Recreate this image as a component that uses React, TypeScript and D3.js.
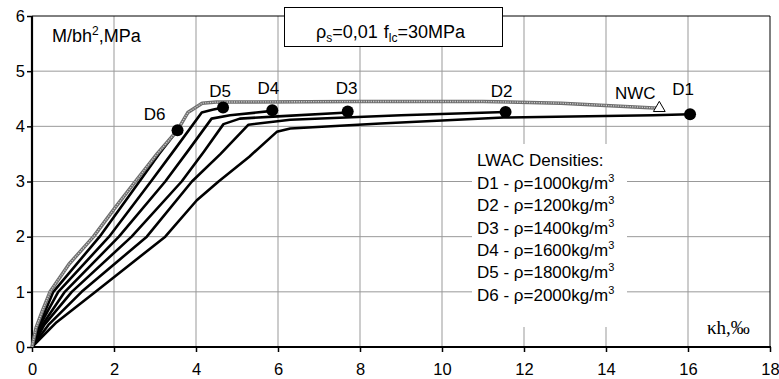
import React, { useRef, useEffect } from "react";
import * as d3 from "d3";

type Pt = [number, number];

// axis ticks
const xTicks = [0, 2, 4, 6, 8, 10, 12, 14, 16, 18];
const yTicks = [0, 1, 2, 3, 4, 5, 6];

// NWC reference curve (grey)
const nwcCurve: Pt[] = [
    [0, 0], [0.1, 0.35], [0.25, 0.65], [0.44, 1.0], [0.9, 1.5], [1.5, 2.0], [2.0, 2.5],
    [2.52, 3.0], [3.05, 3.5], [3.55, 3.93], [3.8, 4.25], [4.15, 4.42], [4.5, 4.44],
    [8, 4.45], [11, 4.45], [12.9, 4.42], [15.3, 4.33],
];

// LWAC curves
const d1Curve: Pt[] = [
    [0, 0], [0.6, 0.45], [1.55, 1.0], [3.25, 2.0], [4.02, 2.66], [4.55, 3.0], [5.3, 3.45],
    [5.97, 3.9], [6.3, 3.96], [8.5, 4.05], [11.5, 4.16], [15.15, 4.2], [16.05, 4.22],
];
const d2Curve: Pt[] = [
    [0, 0], [0.4, 0.4], [1.21, 1.0], [2.8, 2.0], [3.9, 3.0], [4.6, 3.5], [5.28, 4.03],
    [6.3, 4.12], [9, 4.2], [11.55, 4.26],
];
const d3Curve: Pt[] = [
    [0, 0], [0.3, 0.4], [0.97, 1.0], [2.43, 2.0], [3.65, 3.0], [4.2, 3.55], [4.67, 4.04],
    [5.07, 4.14], [6, 4.18], [7.7, 4.25],
];
const d4Curve: Pt[] = [
    [0, 0], [0.25, 0.4], [0.8, 1.0], [2.12, 2.0], [3.25, 3.0], [3.85, 3.6], [4.38, 4.14],
    [4.83, 4.2], [5.86, 4.28],
];
const d5Curve: Pt[] = [
    [0, 0], [0.2, 0.4], [0.64, 1.0], [1.88, 2.0], [2.9, 3.0], [3.5, 3.6], [4.14, 4.25],
    [4.4, 4.3], [4.66, 4.34],
];
const d6Curve: Pt[] = [
    [0, 0], [0.15, 0.35], [0.52, 1.0], [1.65, 2.0], [2.62, 3.0], [3.1, 3.5], [3.55, 3.93],
];

const seriesNames = ["D1", "D2", "D3", "D4", "D5", "D6"];
const seriesCurves = [d1Curve, d2Curve, d3Curve, d4Curve, d5Curve, d6Curve];
const densities = [1000, 1200, 1400, 1600, 1800, 2000];
const markerX = [16.05, 11.55, 7.7, 5.86, 4.66, 3.55];
const markerY = [4.22, 4.26, 4.27, 4.29, 4.34, 3.93];
const nwcMarker: Pt = [15.3, 4.33];

const W = 779;
const H = 379;
const FONT = "'Liberation Sans', Arial, sans-serif";

export default function App() {
    const xAxisRef = useRef<SVGGElement>(null);
    const yAxisRef = useRef<SVGGElement>(null);

    const x = d3.scaleLinear().domain([0, 18]).range([32, 770]);
    const y = d3.scaleLinear().domain([0, 6]).range([347, 16]);

    const line = d3.line<Pt>().x(d => x(d[0])).y(d => y(d[1]));

    useEffect(() => {
        const xa = d3.select(xAxisRef.current!)
            .call(d3.axisBottom(x).tickValues(xTicks).tickSize(5).tickPadding(11).tickFormat(d3.format("d")));
        const ya = d3.select(yAxisRef.current!)
            .call(d3.axisLeft(y).tickValues(yTicks).tickSize(5).tickPadding(2).tickFormat(d3.format("d")));
        [xa, ya].forEach(a => {
            a.select(".domain").remove();
            a.attr("font-family", FONT).attr("font-size", 16.5);
            a.selectAll("line").attr("stroke", "#000").attr("stroke-width", 1.5);
            a.selectAll("text").attr("fill", "#000");
        });
    }, []);

    // label offsets (px) from marker centres
    const labelOff: Record<string, Pt> = {
        D1: [-7, -19], D2: [-4, -15], D3: [-1, -17], D4: [-4, -16], D5: [-3, -11], D6: [-23, -10],
    };

    return (
        <div style={{ position: "absolute", left: 0, top: 0 }}>
            <svg width={W} height={H} style={{ display: "block", background: "#fff" }}>
                {/* grid */}
                <g stroke="#999" strokeWidth={1}>
                    {xTicks.slice(1, -1).map(t => (
                        <line key={"gx" + t} x1={x(t)} x2={x(t)} y1={y(6)} y2={y(0)} />
                    ))}
                    {yTicks.slice(1, -1).map(t => (
                        <line key={"gy" + t} x1={x(0)} x2={x(18)} y1={y(t)} y2={y(t)} />
                    ))}
                </g>
                {/* frame */}
                <line x1={x(0)} x2={x(18)} y1={y(6)} y2={y(6)} stroke="#000" strokeWidth={1} />
                <line x1={x(18)} x2={x(18)} y1={y(6)} y2={y(0)} stroke="#000" strokeWidth={1} />
                <line x1={x(0)} x2={x(18) + 1} y1={y(0)} y2={y(0)} stroke="#000" strokeWidth={2.2} />
                <line x1={x(0)} x2={x(0)} y1={y(6)} y2={y(0) + 1} stroke="#000" strokeWidth={2.2} />
                <g ref={xAxisRef} transform={`translate(0,${y(0)})`} />
                <g ref={yAxisRef} transform={`translate(${x(0)},0)`} />

                {/* legend background */}
                <rect x={472} y={144} width={155} height={183} fill="#fff" />
                <g fontFamily={FONT} fontSize={17} fill="#000">
                    <text x={477} y={166}>LWAC Densities:</text>
                    {seriesNames.map((n, i) => (
                        <text key={n} x={477} y={189 + i * 22.3}>
                            {n} - ρ={densities[i]}kg/m<tspan dy={-7} fontSize={11}>3</tspan>
                        </text>
                    ))}
                </g>

                {/* title box */}
                <rect x={284.5} y={7.5} width={218} height={39} fill="#fff" stroke="#000" strokeWidth={1} />
                <text x={316} y={38} fontFamily={FONT} fontSize={18} fill="#000">
                    ρ<tspan dy={4} fontSize={12}>s</tspan>
                    <tspan dy={-4}>=0,01</tspan>
                    <tspan dx={6}>f</tspan>
                    <tspan dy={4} fontSize={12}>lc</tspan>
                    <tspan dy={-4}>=30MPa</tspan>
                </text>

                {/* axis titles */}
                <text x={52} y={42} fontFamily={FONT} fontSize={18} fill="#000">
                    M/bh<tspan dy={-7} fontSize={12}>2</tspan><tspan dy={7}>,MPa</tspan>
                </text>
                <text x={707} y={334} fontFamily="'Liberation Serif', 'Times New Roman', serif" fontSize={19} fill="#000">
                    κh,‰
                </text>

                {/* LWAC curves */}
                <g fill="none" stroke="#000" strokeWidth={2.6} strokeLinejoin="round">
                    {seriesCurves.map((c, i) => (
                        <path key={seriesNames[i]} d={line(c) || ""} />
                    ))}
                </g>

                {/* NWC curve */}
                <path d={line(nwcCurve) || ""} fill="none" stroke="#6e6e6e" strokeWidth={3.5} strokeLinejoin="round" />
                <path d={line(nwcCurve) || ""} fill="none" stroke="#cfcfcf" strokeWidth={1.3} strokeDasharray="1.2 1.2" />

                {/* markers */}
                {seriesNames.map((n, i) => (
                    <circle key={"m" + n} cx={x(markerX[i])} cy={y(markerY[i])} r={6} fill="#000" />
                ))}
                <path
                    d={d3.symbol(d3.symbolTriangle, 60)() || ""}
                    transform={`translate(${x(nwcMarker[0])},${y(nwcMarker[1])})`}
                    fill="#fff" stroke="#000" strokeWidth={1}
                />

                {/* series labels */}
                <g fontFamily={FONT} fontSize={17} fill="#000" textAnchor="middle">
                    {seriesNames.map((n, i) => (
                        <text key={"l" + n} x={x(markerX[i]) + labelOff[n][0]} y={y(markerY[i]) + labelOff[n][1]}>
                            {n}
                        </text>
                    ))}
                    <text x={x(nwcMarker[0]) - 24} y={y(nwcMarker[1]) - 9}>NWC</text>
                </g>
            </svg>
        </div>
    );
}
